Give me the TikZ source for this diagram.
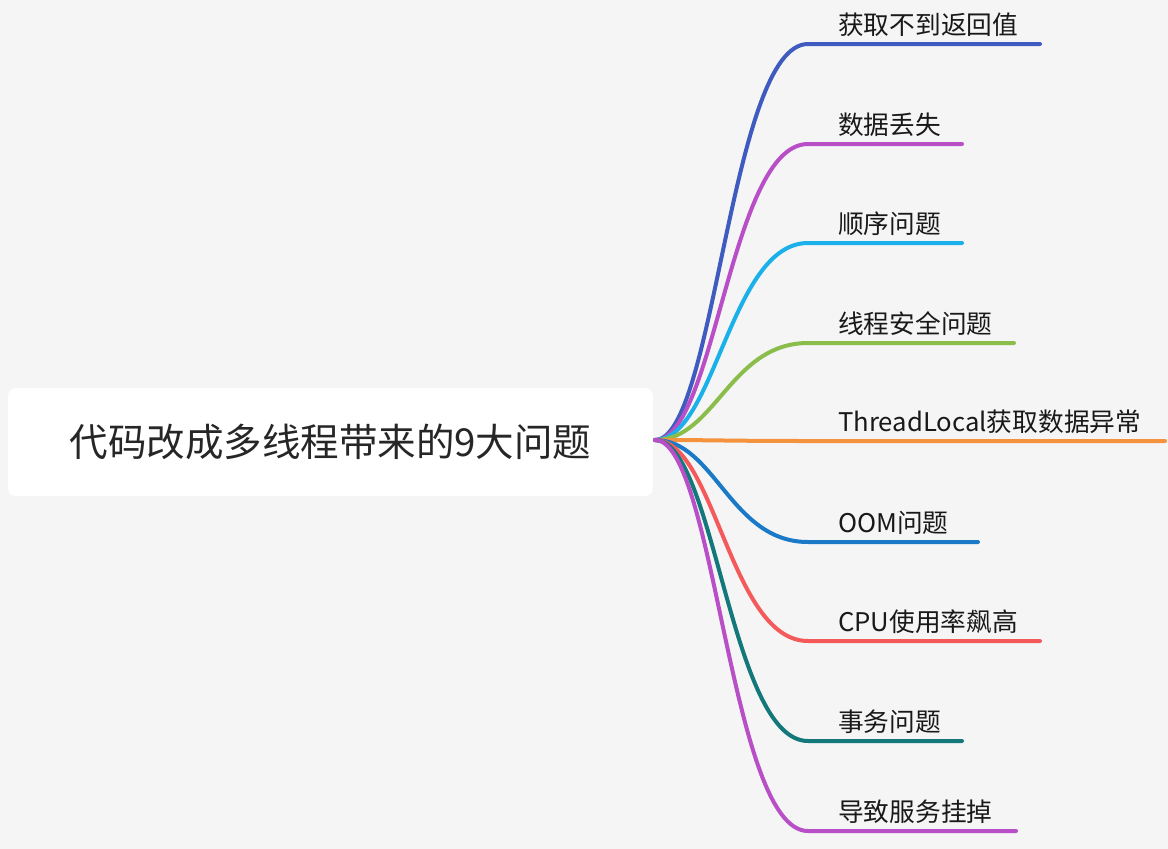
\documentclass[tikz,border=0pt]{standalone}
\usepackage{fontspec}
\setmainfont{Noto Sans CJK SC}
\definecolor{bgcol}{HTML}{F5F5F6}
\definecolor{cA}{HTML}{3F5BBF}
\definecolor{cB}{HTML}{B84FC7}
\definecolor{cC}{HTML}{1AB0EA}
\definecolor{cD}{HTML}{8BBD4A}
\definecolor{cE}{HTML}{F5923E}
\definecolor{cF}{HTML}{1A7AC8}
\definecolor{cG}{HTML}{F45A5A}
\definecolor{cH}{HTML}{13787A}
\tikzset{
  rootbox/.style={fill=white,rounded corners=8pt,minimum width=645pt,minimum height=108pt,
    font=\fontsize{38.5}{42}\selectfont,text=black!85},
  leaftext/.style={anchor=south west,inner sep=0pt,font=\fontsize{25.7}{28}\selectfont,text=black!90},
  branch/.style={line width=4pt,line cap=round}
}
\begin{document}
\begin{tikzpicture}[x=1pt,y=-1pt]
\fill[bgcol] (0,0) rectangle (1168,849);
\useasboundingbox (0,0) rectangle (1168,849);

% root
\node[rootbox] (root) at (330.5,442) {代码改成多线程带来的9大问题};
\coordinate (o) at (655,440);

% leaves
\foreach \i/\y/\xe/\col/\txt in {
  1/44/1040/cA/获取不到返回值,
  2/144/962/cB/数据丢失,
  3/243/962/cC/顺序问题,
  4/343/1014/cD/线程安全问题,
  5/441/1165/cE/ThreadLocal获取数据异常,
  6/542/978/cF/OOM问题,
  7/641/1040/cG/CPU使用率飙高,
  8/741/962/cH/事务问题,
  9/831/1016/cB/导致服务挂掉}{
  \coordinate (s\i) at (808,\y);
  \coordinate (e\i) at (\xe,\y);
  \node[leaftext] (l\i) at (838,\y-7) {\txt};
  \draw[branch,\col] (o) .. controls (715,440) and (730,\y) .. (s\i) -- (e\i);
}
\end{tikzpicture}
\end{document}
